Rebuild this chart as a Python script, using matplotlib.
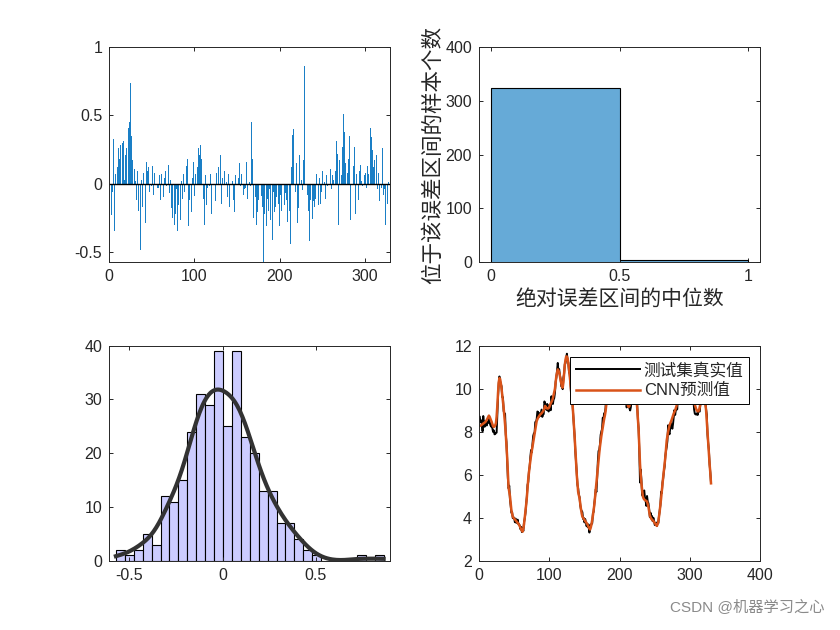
import numpy as np
import matplotlib.pyplot as plt

plt.rcParams['font.family'] = ['Liberation Sans', 'Noto Sans CJK SC']
plt.rcParams['axes.unicode_minus'] = False

# 预测误差 (预测值 - 真实值), 共330个测试样本
errors = [
    -0.42, -0.16, -0.23, -0.06, 0.33, -0.35, 0.07, 0.20, -0.04, 0.12,
    0.26, 0.18, 0.28, 0.08, 0.27, 0.30, 0.31, 0.03, 0.21, 0.26,
    0.16, 0.37, 0.41, 0.45, 0.74, 0.35, 0.17, 0.06, -0.07, 0.11,
    0.02, -0.12, 0.09, -0.20, 0.14, -0.11, -0.49, 0.03, -0.17, 0.08,
    0.26, 0.04, -0.29, 0.16, 0.09, 0.12, -0.06, 0.07, -0.02, -0.02,
    0.13, -0.08, 0.08, 0.00, -0.15, 0.02, -0.03, -0.03, 0.06, -0.12,
    0.07, -0.16, 0.12, -0.10, 0.04, 0.09, -0.02, -0.01, -0.13, 0.14,
    -0.07, 0.03, -0.18, -0.25, 0.06, -0.12, -0.30, -0.22, -0.04, -0.35,
    -0.16, -0.09, -0.36, -0.27, 0.02, -0.11, 0.07, -0.06, -0.17, 0.21,
    0.13, 0.18, -0.31, -0.12, -0.06, 0.09, -0.21, 0.04, 0.16, -0.09,
    0.07, 0.32, -0.25, 0.12, 0.26, 0.21, 0.28, 0.18, -0.03, 0.08,
    -0.11, -0.30, 0.06, -0.16, -0.03, -0.07, 0.14, -0.02, 0.07, -0.22,
    0.00, -0.05, 0.16, 0.03, -0.13, 0.08, -0.01, 0.12, -0.08, -0.02,
    0.21, -0.15, 0.04, -0.01, 0.09, -0.03, 0.13, 0.01, -0.10, 0.07,
    -0.17, -0.01, -0.06, 0.08, 0.02, -0.12, -0.21, 0.06, -0.04, 0.12,
    -0.09, 0.04, 0.15, -0.02, 0.07, -0.13, 0.19, -0.08, -0.04, -0.03,
    0.16, -0.11, 0.08, -0.06, 0.01, -0.02, 0.45, 0.18, -0.25, -0.40,
    -0.16, -0.10, -0.30, -0.21, -0.12, -0.45, -0.18, -0.26, -0.09, -0.17,
    -0.571, -0.22, -0.29, -0.15, -0.31, -0.11, -0.20, -0.04, -0.27, -0.16,
    -0.12, -0.41, -0.06, -0.21, -0.17, -0.10, -0.26, -0.02, -0.15, -0.31,
    -0.08, -0.20, -0.39, -0.13, -0.54, -0.16, -0.07, -0.12, -0.28, 0.22,
    -0.11, -0.20, -0.44, 0.12, 0.36, 0.40, 0.23, 0.37, -0.06, 0.15,
    -0.29, -0.18, 0.21, -0.01, -0.13, 0.03, -0.05, 0.17, 0.862, -0.24,
    -0.15, 0.26, -0.08, -0.20, -0.42, -0.12, 0.02, 0.23, -0.26, -0.13,
    -0.17, -0.11, 0.07, -0.21, -0.10, -0.16, 0.04, -0.15, -0.06, 0.09,
    -0.03, -0.07, 0.01, -0.11, 0.06, -0.02, -0.01, 0.02, -0.31, 0.11,
    -0.04, 0.06, 0.03, 0.13, -0.07, 0.09, 0.31, 0.22, -0.30, 0.17,
    0.42, 0.21, 0.06, 0.27, 0.51, 0.38, 0.15, -0.09, 0.22, 0.08,
    0.18, 0.35, -0.27, -0.12, 0.30, -0.06, 0.13, 0.27, -0.22, 0.07,
    0.28, 0.19, -0.12, 0.09, 0.14, 0.02, -0.02, 0.16, 0.12, 0.06,
    0.08, -0.03, 0.13, 0.07, -0.02, 0.32, 0.41, 0.34, 0.25, 0.12,
    0.17, 0.01, 0.06, 0.21, -0.04, 0.08, -0.13, 0.14, 0.00, -0.03,
    0.26, -0.08, -0.04, -0.30, 0.12, 0.03, -0.15, 0.01, -0.01, -0.02,
]

# CNN 预测值
y_pred = [
    8.27, 8.28, 8.30, 8.33, 8.35, 8.38, 8.40, 8.43, 8.45, 8.50,
    8.55, 8.62, 8.70, 8.75, 8.70, 8.62, 8.55, 8.45, 8.35, 8.25,
    8.22, 8.25, 8.30, 8.40, 8.70, 9.20, 9.80, 10.30, 10.50, 10.45,
    10.25, 10.00, 9.70, 9.40, 9.10, 8.75, 8.35, 7.90, 7.35, 6.80,
    6.10, 5.40, 5.20, 5.00, 4.65, 4.35, 4.20, 4.05, 4.00, 3.95,
    3.92, 3.88, 3.84, 3.80, 3.76, 3.72, 3.66, 3.60, 3.52, 3.45,
    3.40, 3.35, 3.50, 3.70, 4.00, 4.30, 4.60, 4.95, 5.40, 5.80,
    6.10, 6.40, 6.65, 6.90, 7.10, 7.30, 7.50, 7.70, 7.90, 8.10,
    8.30, 8.50, 8.58, 8.65, 8.70, 8.75, 8.80, 8.83, 8.86, 8.90,
    8.95, 9.00, 9.10, 9.20, 9.15, 9.10, 9.08, 9.08, 9.10, 9.15,
    9.25, 9.32, 9.40, 9.45, 9.55, 9.70, 9.85, 10.00, 10.30, 10.60,
    10.75, 10.90, 10.85, 10.75, 10.60, 10.40, 10.25, 10.10, 10.05, 10.30,
    10.70, 11.10, 11.35, 11.50, 11.50, 11.40, 11.20, 10.90, 10.60, 10.25,
    9.90, 9.60, 9.30, 8.80, 8.30, 7.75, 7.20, 6.60, 6.00, 5.60,
    5.20, 5.05, 4.90, 4.65, 4.40, 4.20, 4.05, 4.00, 3.95, 3.90,
    3.85, 3.80, 3.75, 3.70, 3.62, 3.55, 3.50, 3.45, 3.55, 3.70,
    3.90, 4.10, 4.35, 4.60, 4.95, 5.30, 5.65, 6.00, 6.35, 6.70,
    7.00, 7.30, 7.55, 7.80, 8.00, 8.20, 8.40, 8.60, 8.75, 8.95,
    9.25, 9.45, 9.65, 9.85, 10.00, 10.10, 10.20, 10.25, 10.30, 10.30,
    10.30, 10.25, 10.20, 10.15, 10.10, 10.05, 10.00, 9.95, 9.90, 9.85,
    9.80, 9.75, 9.70, 9.65, 9.60, 9.55, 9.50, 9.45, 9.40, 9.35,
    9.30, 9.20, 9.15, 9.20, 9.35, 9.55, 9.75, 9.90, 10.00, 10.05,
    10.00, 9.95, 9.80, 9.50, 9.10, 8.60, 8.10, 7.30, 6.50, 6.00,
    5.60, 5.30, 5.00, 4.90, 4.85, 4.82, 4.80, 4.78, 4.75, 4.62,
    4.50, 4.30, 4.10, 4.02, 3.95, 3.92, 3.88, 3.85, 3.80, 3.75,
    3.70, 3.66, 3.62, 3.70, 3.80, 4.05, 4.30, 4.60, 4.90, 5.25,
    5.60, 5.90, 6.20, 6.50, 6.80, 7.20, 7.60, 7.80, 8.00, 8.15,
    8.30, 8.38, 8.45, 8.55, 8.65, 8.75, 8.85, 8.92, 9.00, 9.10,
    9.20, 9.40, 9.60, 9.80, 9.95, 10.10, 10.20, 10.25, 10.30, 10.30,
    10.30, 10.25, 10.20, 10.15, 10.10, 10.05, 10.00, 9.95, 9.90, 9.85,
    9.80, 9.75, 9.65, 9.55, 9.45, 9.35, 9.25, 9.15, 9.05, 8.98,
    8.95, 8.95, 9.00, 9.15, 9.30, 9.50, 9.70, 9.85, 9.90, 9.80,
    9.60, 9.30, 9.00, 8.50, 8.00, 7.50, 7.00, 6.50, 6.10, 5.60,
]

abs_bin_edges = [0, 0.5, 1]
n_bins = 30

err = np.array(errors)
pred = np.array(y_pred)
y_true = pred - err
samples = np.arange(1, len(err) + 1)

txt = '#262626'
fig = plt.figure(figsize=(8.4, 6.3), dpi=100)


def style(ax):
    ax.tick_params(direction='in', length=3, width=0.7, top=True, right=True,
                   colors=txt, labelsize=11.5, pad=5)
    for s in ax.spines.values():
        s.set_linewidth(0.7)
        s.set_color(txt)


# 误差柱状图
ax1 = fig.add_axes([0.13, 0.5838, 0.3347, 0.3412])
ax1.bar(samples, err, width=0.8, color='#1a7fc6', linewidth=0)
ax1.axhline(0, color='k', lw=1)
ax1.set_xlim(0, 330)
ax1.set_ylim(-0.576, 1)
ax1.set_xticks([0, 100, 200, 300])
ax1.set_yticks([-0.5, 0, 0.5, 1])
ax1.set_yticklabels(['-0.5', '0', '0.5', '1'])
style(ax1)

# 绝对误差分布
ax2 = fig.add_axes([0.5703, 0.5838, 0.3347, 0.3412])
ax2.hist(np.abs(err), bins=abs_bin_edges, color='#0072BD', alpha=0.6,
         edgecolor='none')
ax2.hist(np.abs(err), bins=abs_bin_edges, histtype='step', color='k', lw=0.8)
ax2.set_xlim(-0.047, 1.046)
ax2.set_ylim(0, 400)
ax2.set_xticks([0, 0.5, 1])
ax2.set_xticklabels(['0', '0.5', '1'])
ax2.set_yticks([0, 100, 200, 300, 400])
ax2.set_xlabel('绝对误差区间的中位数', fontsize=15, color=txt, labelpad=3)
ax2.set_ylabel('位于该误差区间的样本个数', fontsize=15.5, color=txt, labelpad=1)
style(ax2)

# 误差直方图 + 核密度拟合
ax3 = fig.add_axes([0.13, 0.11, 0.3347, 0.3412])
cnt, edges, _ = ax3.hist(err, bins=n_bins, color='#CCCCFF', edgecolor='k', lw=0.8)
binw = edges[1] - edges[0]
sig = np.median(np.abs(err - np.median(err))) / 0.6745
bw = sig * (4 / (3 * len(err))) ** 0.2
xs = np.linspace(edges[0], edges[-1], 200)
dens = np.exp(-0.5 * ((xs[:, None] - err[None, :]) / bw) ** 2).sum(axis=1)
dens = dens / (len(err) * bw * np.sqrt(2 * np.pi))
ax3.plot(xs, dens * len(err) * binw, color='#333333', lw=3)
ax3.set_xlim(-0.607, 0.898)
ax3.set_ylim(0, 40)
ax3.set_xticks([-0.5, 0, 0.5])
ax3.set_xticklabels(['-0.5', '0', '0.5'])
ax3.set_yticks([0, 10, 20, 30, 40])
style(ax3)

# 真实值与预测值对比
ax4 = fig.add_axes([0.5703, 0.11, 0.3347, 0.3412])
ax4.plot(samples, y_true, color='k', lw=1.4, label='测试集真实值')
ax4.plot(samples, pred, color='#D95319', lw=1.8, label='CNN预测值')
ax4.set_xlim(0, 400)
ax4.set_ylim(2, 12)
ax4.set_xticks([0, 100, 200, 300, 400])
ax4.set_yticks([2, 4, 6, 8, 10, 12])
style(ax4)
leg = ax4.legend(loc='upper right', fontsize=12, frameon=True, fancybox=False,
                 framealpha=1, edgecolor='k', handlelength=3.8, handletextpad=0.25,
                 labelspacing=0.3, borderpad=0.35, borderaxespad=0.65)
leg.get_frame().set_linewidth(0.7)
for t in leg.get_texts():
    t.set_color(txt)

fig.text(0.982, 0.035, 'CSDN @机器学习之心', ha='right', va='center',
         fontsize=11, color='#8a8a8a')

plt.savefig('out.png', dpi=100)
